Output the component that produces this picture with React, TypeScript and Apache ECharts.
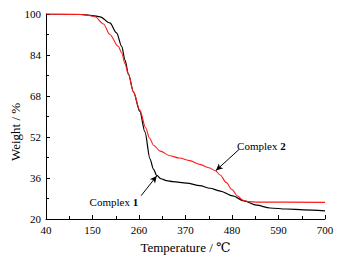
import React, { useEffect, useRef } from "react";
import * as echarts from "echarts";

const temps1 = [40, 120, 150, 168, 191, 207, 219, 227, 235, 247, 262, 274, 286, 294, 302, 312, 325, 340, 373, 404, 428, 452, 482, 508, 538, 570, 609, 650, 700];
const weights1 = [100, 99.9, 99.4, 98.9, 96.5, 92.6, 87.4, 82, 76.5, 69.5, 62, 54, 43.5, 39.5, 37, 35.7, 35.0, 34.6, 34.0, 33.0, 32.0, 30.9, 29.0, 27.1, 25.4, 24.3, 23.9, 23.6, 23.2];
const temps2 = [40, 120, 140, 156, 176, 191, 211, 219, 227, 235, 247, 262, 276, 285, 295, 310, 333, 355, 380, 404, 425, 440, 452, 466, 480, 493, 506, 520, 540, 700];
const weights2 = [100, 99.8, 99.5, 98.9, 96.1, 92, 87.4, 84.8, 80.5, 76.5, 69.5, 62.5, 55.5, 51.5, 48.7, 46.5, 44.7, 43.8, 42.8, 41.3, 40.0, 38.9, 37.2, 34.3, 31.5, 29, 27.3, 26.8, 26.6, 26.5];
const arrow1 = [[265, 29.1], [302, 36.8]];
const arrow2 = [[497, 47.2], [442, 38.9]];
const label1Pos = [258, 26.6];
const label2Pos = [492, 48.3];
const yName = "Weight / %";
const xName = "Temperature / ℃";

const FONT = "'Liberation Serif', 'DejaVu Serif', serif";

export default function App() {
  const ref = useRef<HTMLDivElement>(null);
  useEffect(() => {
    document.body.style.margin = "0";
    const chart = echarts.init(ref.current!, null, { renderer: "svg" });
    const axisCommon = {
      axisLine: { show: true, lineStyle: { color: "#000", width: 1 } },
      axisTick: { show: true, inside: true, length: 4, lineStyle: { color: "#000" } },
      minorTick: { show: true, splitNumber: 2, length: 3, lineStyle: { color: "#000" } },
      splitLine: { show: false },
      nameLocation: "middle" as const,
      nameTextStyle: { fontFamily: FONT, fontSize: 13, color: "#000" },
    };
    const mkArrow = (a: number[][]) => ({
      silent: true,
      symbol: ["none", "arrow"],
      symbolSize: [5, 7],
      label: { show: false },
      lineStyle: { color: "#000", width: 1, type: "solid" },
      data: [[{ coord: a[0] }, { coord: a[1] }]],
    });
    chart.setOption({
      animation: false,
      grid: { left: 46, right: 17, top: 14, bottom: 39, containLabel: false },
      xAxis: {
        type: "value",
        min: 40,
        max: 700,
        interval: 110,
        name: xName,
        nameGap: 22,
        ...axisCommon,
        axisLabel: { fontFamily: FONT, fontSize: 11, color: "#000", margin: 5 },
      },
      yAxis: {
        type: "value",
        min: 20,
        max: 100,
        interval: 16,
        ...axisCommon,
        axisLabel: { fontFamily: FONT, fontSize: 11, color: "#000", margin: 5 },
      },
      series: [
        {
          type: "line",
          data: temps1.map((t, i) => [t, weights1[i]]),
          showSymbol: false,
          smooth: 0.3,
          smoothMonotone: "x",
          lineStyle: { color: "#000", width: 1.2 },
          markLine: mkArrow(arrow1),
        },
        {
          type: "line",
          data: temps2.map((t, i) => [t, weights2[i]]),
          showSymbol: false,
          smooth: 0.3,
          smoothMonotone: "x",
          lineStyle: { color: "#ff1a1a", width: 1.1 },
          markLine: mkArrow(arrow2),
        },
      ],
    });
    const p1 = chart.convertToPixel({ gridIndex: 0 }, label1Pos) as number[];
    const p2 = chart.convertToPixel({ gridIndex: 0 }, label2Pos) as number[];
    const rich = {
      a: { fontFamily: FONT, fontSize: 11, fill: "#000" },
      b: { fontFamily: FONT, fontSize: 11, fontWeight: "bold", fill: "#000" },
    };
    chart.setOption({
      graphic: [
        {
          type: "text",
          x: p1[0],
          y: p1[1],
          style: { text: "{a|Complex }{b|1}", rich, align: "right", verticalAlign: "middle" },
        },
        {
          type: "text",
          x: p2[0],
          y: p2[1],
          style: { text: "{a|Complex }{b|2}", rich, align: "left", verticalAlign: "middle" },
        },
        {
          type: "text",
          x: 15,
          y: 132,
          rotation: Math.PI / 2,
          style: { text: yName, fontFamily: FONT, fontSize: 13, fill: "#000", align: "center", verticalAlign: "middle" },
        },
      ],
    });
    return () => chart.dispose();
  }, []);
  return <div ref={ref} style={{ width: 342, height: 259 }} />;
}
